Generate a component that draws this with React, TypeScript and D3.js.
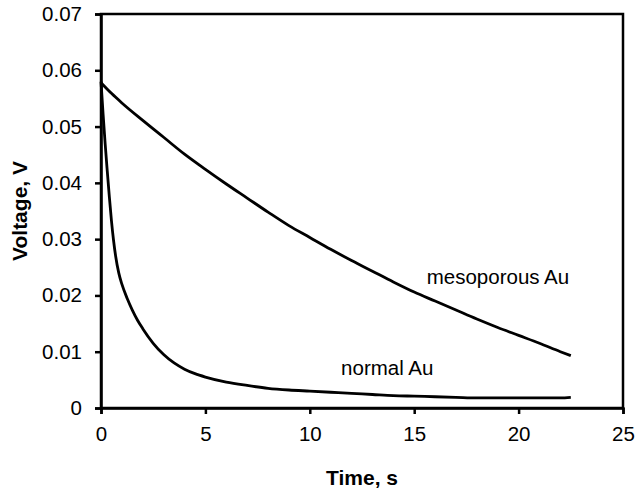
import React, { useEffect, useRef } from "react";
import * as d3 from "d3";

// time axis (s) and measured voltages (V)
const mesoTime = [0, 0.5, 1, 2, 3, 4, 5, 6, 7, 8, 9, 10, 11, 12, 13, 14, 15, 16, 17, 18, 19, 20, 21, 22, 22.5];
const mesoVolt = [0.0578, 0.0559, 0.0542, 0.0511, 0.0481, 0.0451, 0.0424, 0.0398, 0.0373, 0.0348, 0.0324, 0.0303, 0.0282, 0.0262, 0.0243, 0.0224, 0.0206, 0.019, 0.0174, 0.0158, 0.0143, 0.0129, 0.0115, 0.01, 0.0093];

const normalTime = [0, 0.1, 0.2, 0.3, 0.4, 0.5, 0.6, 0.7, 0.85, 1, 1.25, 1.5, 1.75, 2, 2.5, 3, 3.5, 4, 4.5, 5, 6, 7, 8, 9, 10, 11, 12, 13, 14, 15, 16, 17, 18, 19, 20, 21, 22, 22.5];
const normalVolt = [0.058, 0.0522, 0.0469, 0.0421, 0.0375, 0.0333, 0.0298, 0.027, 0.024, 0.022, 0.0195, 0.0174, 0.0156, 0.0141, 0.0115, 0.0095, 0.008, 0.0069, 0.0061, 0.0055, 0.0046, 0.004, 0.0035, 0.0032, 0.003, 0.0028, 0.0026, 0.0024, 0.0022, 0.0021, 0.002, 0.0019, 0.0018, 0.0018, 0.0018, 0.0018, 0.0018, 0.0019];

const xTicks = [0, 5, 10, 15, 20, 25];
const yTicks = [0, 0.01, 0.02, 0.03, 0.04, 0.05, 0.06, 0.07];

const labels = [
  { text: "mesoporous Au", t: 15.6, v: 0.0221 },
  { text: "normal Au", t: 11.5, v: 0.0059 },
];

const W = 636;
const H = 492;
const margin = { top: 14, right: 13, bottom: 84, left: 101 };
const FONT = "'Liberation Sans', Arial, Helvetica, sans-serif";

const App = () => {
  const ref = useRef<SVGSVGElement>(null);

  useEffect(() => {
    const svg = d3.select(ref.current);
    svg.selectAll("*").remove();

    const x = d3.scaleLinear().domain([0, 25]).range([margin.left, W - margin.right]);
    const y = d3.scaleLinear().domain([0, 0.07]).range([H - margin.bottom, margin.top]);

    // frame
    svg.append("rect")
      .attr("x", x(0))
      .attr("y", y(0.07))
      .attr("width", x(25) - x(0))
      .attr("height", y(0) - y(0.07))
      .attr("fill", "none")
      .attr("stroke", "#000")
      .attr("stroke-width", 2.5);

    const xAxis = svg.append("g")
      .attr("transform", `translate(0,${y(0)})`)
      .call(d3.axisBottom(x).tickValues(xTicks).tickSize(6).tickPadding(12).tickFormat(d3.format("d")));

    const yAxis = svg.append("g")
      .attr("transform", `translate(${x(0)},0)`)
      .call(d3.axisLeft(y).tickValues(yTicks).tickSize(6).tickPadding(13)
        .tickFormat((d) => (d === 0 ? "0" : d3.format(".2f")(d as number))));

    [xAxis, yAxis].forEach((g) => {
      g.select(".domain").attr("stroke-width", 2.5);
      g.selectAll(".tick line").attr("stroke-width", 2.5);
      g.selectAll(".tick text")
        .attr("font-family", FONT)
        .attr("font-size", 20.5)
        .attr("fill", "#000");
    });

    const line = d3.line<[number, number]>()
      .x((d) => x(d[0]))
      .y((d) => y(d[1]))
      .curve(d3.curveMonotoneX);

    const series = [
      mesoTime.map((t, i) => [t, mesoVolt[i]] as [number, number]),
      normalTime.map((t, i) => [t, normalVolt[i]] as [number, number]),
    ];

    svg.selectAll("path.curve")
      .data(series)
      .join("path")
      .attr("class", "curve")
      .attr("d", (d) => line(d))
      .attr("fill", "none")
      .attr("stroke", "#000")
      .attr("stroke-width", 2.8)
      .attr("stroke-linejoin", "round");

    svg.selectAll("text.lbl")
      .data(labels)
      .join("text")
      .attr("class", "lbl")
      .attr("x", (d) => x(d.t))
      .attr("y", (d) => y(d.v))
      .attr("font-family", FONT)
      .attr("font-size", 20.5)
      .text((d) => d.text);

    svg.append("text")
      .attr("x", (x(0) + x(25)) / 2)
      .attr("y", 485)
      .attr("text-anchor", "middle")
      .attr("font-family", FONT)
      .attr("font-weight", "bold")
      .attr("font-size", 21)
      .text("Time, s");

    svg.append("text")
      .attr("transform", `translate(27,${(y(0) + y(0.07)) / 2}) rotate(-90)`)
      .attr("text-anchor", "middle")
      .attr("font-family", FONT)
      .attr("font-weight", "bold")
      .attr("font-size", 21)
      .text("Voltage, V");
  }, []);

  return (
    <svg
      ref={ref}
      width={W}
      height={H}
      style={{ position: "absolute", left: 0, top: 0, background: "#fff" }}
    />
  );
};

export default App;
